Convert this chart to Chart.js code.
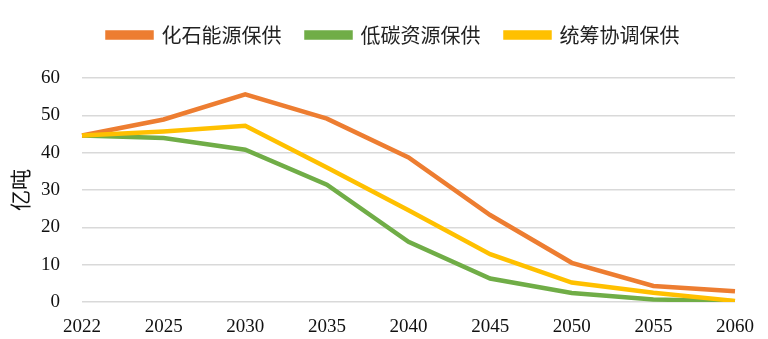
<!DOCTYPE html>
<html>
<head>
<meta charset="utf-8">
<script src="https://cdn.jsdelivr.net/npm/chart.js@4.4.1/dist/chart.umd.min.js"></script>
<style>
  html, body { margin: 0; padding: 0; background: #fff; }
  #wrap { width: 768px; height: 339px; position: relative; }
</style>
</head>
<body>
<div id="wrap"><canvas id="chart"></canvas></div>
<script>
// years on the x axis
var years = ["2022", "2025", "2030", "2035", "2040", "2045", "2050", "2055", "2060"];
// 亿吨
var fossil = [44.6, 48.9, 55.6, 49.1, 38.7, 23.3, 10.5, 4.3, 2.9];
var lowCarbon = [44.6, 43.9, 40.8, 31.4, 16.1, 6.3, 2.4, 0.7, 0.2];
var coordinated = [44.6, 45.7, 47.2, 36.0, 24.6, 12.8, 5.2, 2.5, 0.3];
var seriesNames = ["化石能源保供", "低碳资源保供", "统筹协调保供"];
var yTicks = [0, 10, 20, 30, 40, 50, 60];

var colors = ["#ED7D31", "#70AD47", "#FFC000"];
// yellow sits on top, green at the bottom
var drawOrder = [1, 2, 0];

function ds(i, values) {
  return {
    label: seriesNames[i],
    data: values,
    borderColor: colors[i],
    backgroundColor: colors[i],
    borderWidth: 4.5,
    pointRadius: 0,
    tension: 0,
    fill: false,
    order: drawOrder[i],
  };
}

var serif = "'Liberation Serif', 'Times New Roman', serif";
var cjk = "'Noto Sans CJK SC', sans-serif";

// more room under the legend, and nudge it right a little
var legendTweak = {
  id: "legendTweak",
  beforeInit: function (chart) {
    var fit = chart.legend.fit;
    chart.legend.fit = function () {
      fit.call(this);
      this.height += 23;
    };
  },
  afterLayout: function (chart) {
    chart.legend.left += 20;
    chart.legend.right += 20;
  },
};

new Chart(document.getElementById("chart").getContext("2d"), {
  type: "line",
  data: {
    labels: years,
    datasets: [ds(0, fossil), ds(1, lowCarbon), ds(2, coordinated)],
  },
  plugins: [legendTweak],
  options: {
    responsive: true,
    maintainAspectRatio: false,
    animation: false,
    layout: { padding: { left: 7, right: 28, top: 0, bottom: 0 } },
    plugins: {
      legend: {
        position: "top",
        labels: {
          boxWidth: 44,
          boxHeight: 5,
          padding: 25,
          color: "#222",
          font: { family: cjk, size: 20 },
          sort: function (a, b) { return a.datasetIndex - b.datasetIndex; },
        },
      },
      tooltip: { enabled: false },
    },
    scales: {
      x: {
        offset: false,
        grid: { display: false, drawTicks: false },
        border: { display: false },
        ticks: {
          color: "#111",
          font: { family: serif, size: 19 },
          maxRotation: 0,
          autoSkip: false,
          padding: 14,
        },
        afterFit: function (scale) { scale.height = 37; },
      },
      y: {
        min: 0,
        max: 60,
        afterBuildTicks: function (axis) {
          axis.ticks = yTicks.map(function (v) { return { value: v }; });
        },
        grid: { color: "#d9d9d9", lineWidth: 1.5, drawTicks: false },
        border: { display: false },
        ticks: {
          color: "#111",
          font: { family: serif, size: 19 },
          padding: 22,
        },
        title: {
          display: true,
          text: "亿吨",
          color: "#111",
          font: { family: cjk, size: 21 },
          padding: { top: 0, bottom: 8 },
        },
        afterFit: function (scale) { scale.width = 75; },
      },
    },
  },
});
</script>
</body>
</html>
